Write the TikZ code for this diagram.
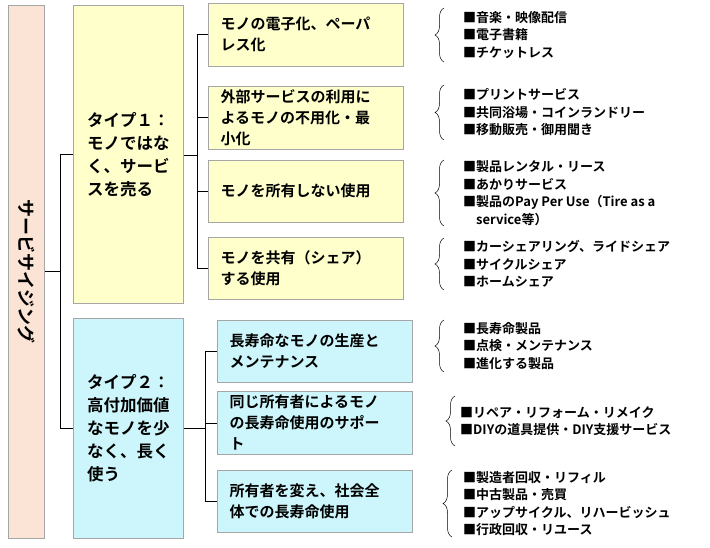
\documentclass[tikz,border=0pt]{standalone}
\usepackage{fontspec}
\setmainfont{Noto Sans CJK JP}[BoldFont={* Bold}]
\usetikzlibrary{positioning,decorations.pathreplacing}

\definecolor{rootfill}{HTML}{FBE3D6}
\definecolor{yelfill}{HTML}{FFFFCC}
\definecolor{cyafill}{HTML}{CCF6FB}

\begin{document}
\begin{tikzpicture}[x=1pt, y=-1pt]

  % ===== Styles =====
  \tikzset{
    cbox/.style={draw=gray!70, line width=0.6pt, anchor=north west, inner sep=0pt},
    lbl/.style={font=\bfseries\fontsize{15}{21}\selectfont, align=left},
    items/.style={font=\bfseries\fontsize{13}{17.5}\selectfont, align=left, anchor=west, inner sep=0pt},
    link/.style={draw=black, line width=0.6pt},
    curly/.style={decorate, decoration={brace, amplitude=9pt}, line width=0.5pt}
  }

  \useasboundingbox (0,0) rectangle (710,548);

  % ===== Root and types =====
  \node[cbox, fill=rootfill, minimum width=36pt, minimum height=533pt] (Root) at (8,5) {};
  \node[font=\bfseries\fontsize{18}{20}\selectfont, rotate=-90] at (Root.center) {サービサイジング};

  \node[cbox, fill=yelfill, minimum width=110pt, minimum height=298pt] (T1) at (73,5) {};
  \node[lbl, font=\bfseries\fontsize{16.5}{23}\selectfont] at (T1.center) {タイプ１：\\モノではな\\く、サービ\\スを売る};
  \node[cbox, fill=cyafill, minimum width=110pt, minimum height=220pt] (T2) at (73,318) {};
  \node[lbl, font=\bfseries\fontsize{16.5}{23}\selectfont] at (T2.center) {タイプ２：\\高付加価値\\なモノを少\\なく、長く\\使う};

  % ===== Second level =====
  \foreach \name/\y/\h/\fc/\xx/\txt in {
      A/3/63/yelfill/208/{モノの電子化、ペーパ\\レス化},
      B/86/63/yelfill/208/{外部サービスの利用に\\よるモノの不用化・最\\小化},
      C/160/62/yelfill/208/{モノを所有しない使用},
      D/237/62/yelfill/208/{モノを共有（シェア）\\する使用},
      E/320/62/cyafill/217/{長寿命なモノの生産と\\メンテナンス},
      F/391/63/cyafill/217/{同じ所有者によるモノ\\の長寿命使用のサポー\\ト},
      G/470/62/cyafill/217/{所有者を変え、社会全\\体での長寿命使用}}{
    \node[cbox, fill=\fc, minimum width=195pt, minimum height=\h pt] (\name) at (\xx,\y) {};
    \node[lbl, anchor=west] at ([xshift=9pt]\name.west) {\txt};
  }

  % ===== Connectors =====
  \coordinate (J0) at (60,271);
  \draw[link] (Root.east |- J0) -- (J0);
  \draw[link] (J0 |- T1.west) -- (J0 |- T2.west);
  \draw[link] (J0 |- T1.west) -- (T1.west);
  \draw[link] (J0 |- T2.west) -- (T2.west);

  \coordinate (J1) at (197,155);
  \draw[link] (T1.east |- J1) -- (J1);
  \draw[link] (J1 |- A.west) -- (J1 |- D.west);
  \foreach \n in {A,B,C,D} \draw[link] (J1 |- \n.west) -- (\n.west);

  \coordinate (J2) at (205,428);
  \draw[link] (T2.east |- J2) -- (J2);
  \draw[link] (J2 |- E.west) -- (J2 |- G.west);
  \foreach \n in {E,F,G} \draw[link] (J2 |- \n.west) -- (\n.west);

  % ===== Braces and lists =====
  \foreach \k/\top/\bot/\bx/\tx/\txt in {
      1/8/62/444/463/{■音楽・映像配信\\■電子書籍\\■チケットレス},
      2/85/140/444/463/{■プリントサービス\\■共同浴場・コインランドリー\\■移動販売・御用聞き},
      3/160/226/444/463/{■製品レンタル・リース\\■あかりサービス\\■製品のPay Per Use（Tire as a\\\phantom{■}service等）},
      4/238/290/444/463/{■カーシェアリング、ライドシェア\\■サイクルシェア\\■ホームシェア},
      5/320/372/444/463/{■長寿命製品\\■点検・メンテナンス\\■進化する製品},
      6/396/446/455/460/{■リペア・リフォーム・リメイク\\■DIYの道具提供・DIY支援サービス},
      7/470/537/452/463/{■製造者回収・リフィル\\■中古製品・売買\\■アップサイクル、リハービッシュ\\■行政回収・リユース}}{
    \draw[curly] (\bx,\bot) -- (\bx,\top);
    \node[items] (L\k) at (\tx,{(\top+\bot)/2}) {\txt};
  }

\end{tikzpicture}
\end{document}
